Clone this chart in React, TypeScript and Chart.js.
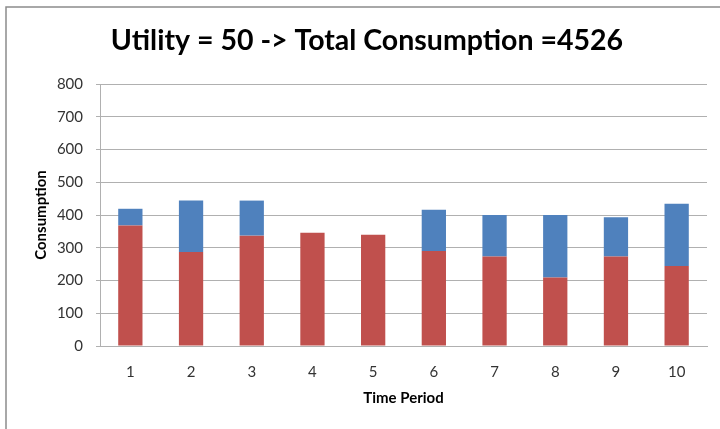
import React, { useEffect, useRef } from "react";
import { Chart, registerables } from "chart.js";

Chart.register(...registerables);

const categories = ["1", "2", "3", "4", "5", "6", "7", "8", "9", "10"];
const redValues = [368, 287, 337, 346, 340, 290, 273, 209, 273, 244];
const blueValues = [51, 157, 107, 0, 0, 126, 127, 191, 120, 190];
const yTicks = [0, 100, 200, 300, 400, 500, 600, 700, 800];
const chartTitle = "Utility = 50 -> Total Consumption =4526";
const xTitle = "Time Period";
const yTitle = "Consumption";

const FONT = "Lato, 'Open Sans', sans-serif";

const borderPlugin = {
  id: "outerBorder",
  beforeDraw(chart: any) {
    const ctx = chart.ctx;
    ctx.save();
    ctx.fillStyle = "#ffffff";
    ctx.fillRect(0, 0, chart.width, chart.height);
    ctx.strokeStyle = "#8c8c8c";
    ctx.lineWidth = 1.5;
    ctx.beginPath();
    ctx.moveTo(6, chart.height);
    ctx.lineTo(6, 7);
    ctx.lineTo(chart.width, 7);
    ctx.stroke();
    ctx.restore();
  },
};

export default function App() {
  const ref = useRef<HTMLCanvasElement | null>(null);

  useEffect(() => {
    if (!ref.current) return;
    const chart = new Chart(ref.current, {
      type: "bar",
      data: {
        labels: categories,
        datasets: [
          {
            label: "Red",
            data: redValues,
            backgroundColor: "#C0504D",
            barPercentage: 0.4,
            categoryPercentage: 1,
          },
          {
            label: "Blue",
            data: blueValues,
            backgroundColor: "#4F81BD",
            barPercentage: 0.4,
            categoryPercentage: 1,
          },
        ],
      },
      options: {
        animation: false,
        responsive: false,
        maintainAspectRatio: false,
        layout: { padding: { left: 27, right: 13, top: 0, bottom: 0 } },
        plugins: {
          legend: { display: false },
          tooltip: { enabled: false },
          title: {
            display: true,
            text: chartTitle,
            color: "#000000",
            font: { family: FONT, size: 28.5, weight: "bold", lineHeight: 1.2 },
            padding: { top: 24, bottom: 25.8 },
          },
        },
        scales: {
          x: {
            stacked: true,
            grid: { display: false },
            border: { display: true, color: "#b0b0b0", width: 1 },
            ticks: {
              color: "#333333",
              font: { family: FONT, size: 15 },
              padding: 9,
            },
            title: {
              display: true,
              text: xTitle,
              color: "#000000",
              font: { family: FONT, size: 15, weight: "bold", lineHeight: 1.2 },
              padding: { top: 0, bottom: 22 },
            },
            afterFit(scale: any) {
              scale.height = 83;
            },
          },
          y: {
            stacked: true,
            min: 0,
            max: 800,
            afterBuildTicks(scale: any) {
              scale.ticks = yTicks.map((v) => ({ value: v }));
            },
            grid: {
              color: "#b0b0b0",
              lineWidth: 1,
              drawTicks: true,
              tickLength: 4,
            },
            border: { display: true, color: "#b0b0b0", width: 1 },
            ticks: {
              color: "#333333",
              font: { family: FONT, size: 15 },
              padding: 13,
            },
            title: {
              display: true,
              text: yTitle,
              color: "#000000",
              font: { family: FONT, size: 15, weight: "bold", lineHeight: 1.2 },
              padding: { top: 5, bottom: 0 },
            },
            afterFit(scale: any) {
              scale.width = 73;
            },
          },
        },
      },
      plugins: [borderPlugin],
    });
    return () => chart.destroy();
  }, []);

  return (
    <div style={{ position: "fixed", left: 0, top: 0, width: 720, height: 429, background: "#fff" }}>
      <canvas ref={ref} width={720} height={429} style={{ display: "block", width: 720, height: 429 }} />
    </div>
  );
}
